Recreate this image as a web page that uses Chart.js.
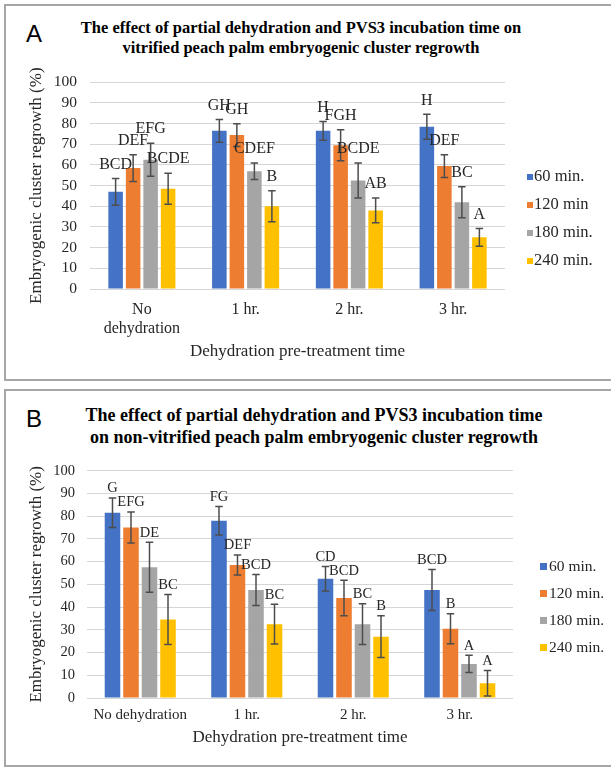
<!DOCTYPE html>
<html lang="en">
<head>
<meta charset="UTF-8">
<title>Peach palm embryogenic cluster regrowth</title>
<script src="https://cdn.jsdelivr.net/npm/chart.js"></script>
<style>
    body {
        margin: 0;
        width: 611px;
        height: 767px;
        overflow: hidden;
        position: relative;
        background: #fff;
        font-family: 'Liberation Serif', 'Times New Roman', serif;
        color: #000;
    }
    .panel {
        position: absolute;
        left: 4px;
        width: 660px;
        border: 2px solid #a6a6a6;
        box-sizing: border-box;
    }
    #panelA { top: 4px; height: 377px; }
    #panelB { top: 389px; height: 378px; }
    .tag {
        position: absolute;
        left: 26px;
        font-family: 'Liberation Sans', Arial, sans-serif;
        font-size: 24px;
        line-height: 24px;
    }
    .title {
        position: absolute;
        font-weight: bold;
        text-align: center;
        white-space: nowrap;
    }
    #titleA { left: 0; width: 602px; top: 18px; font-size: 16.5px; line-height: 20px; }
    #titleB { left: 0; width: 628px; top: 405px; font-size: 18px; line-height: 21.5px; }
    canvas { position: absolute; left: 6px; }
    #chartA { top: 60px; }
    #chartB { top: 450px; }
</style>
</head>
<body>
    <div class="panel" id="panelA"></div>
    <div class="panel" id="panelB"></div>

    <div class="tag" style="top:22px">A</div>
    <div class="title" id="titleA">The effect of partial dehydration and PVS3 incubation time on<br>vitrified peach palm embryogenic cluster regrowth</div>
    <canvas id="chartA" width="600" height="318"></canvas>

    <div class="tag" style="top:407px">B</div>
    <div class="title" id="titleB">The effect of partial dehydration and PVS3 incubation time<br>on non-vitrified peach palm embryogenic cluster regrowth</div>
    <canvas id="chartB" width="600" height="314"></canvas>

<script>
    // categories and series
    const categoriesA = [['No', 'dehydration'], '1 hr.', '2 hr.', '3 hr.'];
    const categoriesB = ['No dehydration', '1 hr.', '2 hr.', '3 hr.'];
    const seriesNamesA = ['60 min.', '120 min', '180 min.', '240 min.'];
    const seriesNamesB = ['60 min.', '120 min.', '180 min.', '240 min.'];
    const seriesColors = ['#4472C4', '#ED7D31', '#A5A5A5', '#FFC000'];
    const yTicks = [0, 10, 20, 30, 40, 50, 60, 70, 80, 90, 100];

    // panel A: vitrified
    const a60 = [47, 76.5, 76.5, 78.5];
    const a120 = [58.5, 74.5, 69.5, 59.5];
    const a180 = [62.5, 57, 52.5, 42];
    const a240 = [48.5, 40, 38, 25];
    const a60Err = [6.5, 5.5, 4.5, 6];
    const a120Err = [6.5, 5.5, 7.5, 5.5];
    const a180Err = [8, 4, 8.5, 7.5];
    const a240Err = [7.5, 7.5, 6, 4.3];
    const a60Letters = ['BCD', 'GH', 'H', 'H'];
    const a120Letters = ['DEF', 'GH', 'FGH', 'DEF'];
    const a180Letters = ['EFG', 'CDEF', 'BCDE', 'BC'];
    const a240Letters = ['BCDE', 'B', 'AB', 'A'];

    // panel B: non-vitrified
    const b60 = [81.5, 78, 52.5, 47.5];
    const b120 = [75, 58.5, 44, 30.5];
    const b180 = [57.5, 47.5, 32.5, 15];
    const b240 = [34.5, 32.5, 27, 6.5];
    const b60Err = [6.5, 6.3, 5.4, 9];
    const b120Err = [6.8, 4.4, 7.8, 6.6];
    const b180Err = [11, 6.8, 9, 3.8];
    const b240Err = [11, 8.7, 9.2, 5.6];
    const b60Letters = ['G', 'FG', 'CD', 'BCD'];
    const b120Letters = ['EFG', 'DEF', 'BCD', 'B'];
    const b180Letters = ['DE', 'BCD', 'BC', 'A'];
    const b240Letters = ['BC', 'BC', 'B', 'A'];

    const textColor = '#262626';
    const serif = 'Liberation Serif';

    const errorBars = {
        id: 'errorBars',
        afterDatasetsDraw(chart, args, opts) {
            const ctx = chart.ctx;
            const y = chart.scales.y;
            ctx.save();
            ctx.strokeStyle = opts.color;
            ctx.lineWidth = opts.width;
            chart.data.datasets.forEach((ds, i) => {
                chart.getDatasetMeta(i).data.forEach((bar, j) => {
                    const v = ds.data[j], e = ds.errors[j];
                    const top = y.getPixelForValue(v + e);
                    const bot = y.getPixelForValue(Math.max(0, v - e));
                    ctx.beginPath();
                    ctx.moveTo(bar.x, top); ctx.lineTo(bar.x, bot);
                    ctx.moveTo(bar.x - opts.cap, top); ctx.lineTo(bar.x + opts.cap, top);
                    ctx.moveTo(bar.x - opts.cap, bot); ctx.lineTo(bar.x + opts.cap, bot);
                    ctx.stroke();
                });
            });
            ctx.restore();
        }
    };

    const letters = {
        id: 'letters',
        afterDatasetsDraw(chart, args, opts) {
            const ctx = chart.ctx;
            const y = chart.scales.y;
            ctx.save();
            ctx.fillStyle = textColor;
            ctx.font = opts.size + 'px ' + serif;
            ctx.textAlign = 'center';
            ctx.textBaseline = 'middle';
            chart.data.datasets.forEach((ds, i) => {
                chart.getDatasetMeta(i).data.forEach((bar, j) => {
                    const top = y.getPixelForValue(ds.data[j] + ds.errors[j]);
                    ctx.fillText(ds.letters[j], bar.x, top - opts.lift);
                });
            });
            ctx.restore();
        }
    };

    const sideLegend = {
        id: 'sideLegend',
        afterDraw(chart, args, opts) {
            const ctx = chart.ctx;
            const right = chart.chartArea.right;
            const n = chart.data.datasets.length;
            ctx.save();
            ctx.font = opts.size + 'px ' + serif;
            ctx.textBaseline = 'middle';
            chart.data.datasets.forEach((ds, i) => {
                const cy = chart.height / 2 + (i - (n - 1) / 2) * opts.spacing;
                ctx.fillStyle = ds.backgroundColor;
                ctx.fillRect(right + opts.boxX, cy - opts.box / 2, opts.box, opts.box);
                ctx.fillStyle = textColor;
                ctx.fillText(ds.label, right + opts.textX, cy);
            });
            ctx.restore();
        }
    };

    function buildChart(id, s) {
        const datasets = s.values.map((vals, i) => ({
            label: s.names[i],
            data: vals,
            errors: s.errors[i],
            letters: s.letters[i],
            backgroundColor: seriesColors[i],
            borderWidth: 0,
            categoryPercentage: s.catPct,
            barPercentage: s.barPct
        }));
        return new Chart(document.getElementById(id), {
            type: 'bar',
            data: { labels: s.labels, datasets: datasets },
            options: {
                responsive: false,
                animation: false,
                devicePixelRatio: 1,
                layout: { padding: { top: s.padTop, right: s.padRight, left: 0, bottom: 0 } },
                plugins: {
                    legend: { display: false },
                    tooltip: { enabled: false },
                    errorBars: { color: '#4d4d4d', width: 1.5, cap: 3.75 },
                    letters: { size: s.letterSize, lift: s.letterLift },
                    sideLegend: s.legend
                },
                scales: {
                    x: {
                        grid: { display: false, drawTicks: false },
                        border: { display: false },
                        ticks: {
                            color: textColor, padding: s.xTickPad, maxRotation: 0, autoSkip: false,
                            font: { family: serif, size: s.xTickSize }
                        },
                        title: {
                            display: true, text: 'Dehydration pre-treatment time', color: textColor,
                            font: { family: serif, size: 17 }, padding: { top: 0, bottom: 16 }
                        },
                        afterFit: scale => { scale.height = s.xHeight; }
                    },
                    y: {
                        min: 0,
                        max: 100,
                        afterBuildTicks: scale => { scale.ticks = yTicks.map(v => ({ value: v })); },
                        grid: { color: '#d6d6d6', lineWidth: 1, drawTicks: false },
                        border: { display: false },
                        ticks: {
                            color: textColor, padding: s.yTickPad, autoSkip: false,
                            font: { family: serif, size: s.yTickSize }
                        },
                        title: {
                            display: true, text: 'Embryogenic cluster regrowth (%)', color: textColor,
                            font: { family: serif, size: 17 }, padding: { top: 20, bottom: 0 }
                        },
                        afterFit: scale => { scale.width = s.yWidth; }
                    }
                }
            },
            plugins: [errorBars, letters, sideLegend]
        });
    }

    buildChart('chartA', {
        labels: categoriesA,
        names: seriesNamesA,
        values: [a60, a120, a180, a240],
        errors: [a60Err, a120Err, a180Err, a240Err],
        letters: [a60Letters, a120Letters, a180Letters, a240Letters],
        catPct: 0.675, barPct: 0.83,
        padTop: 16, padRight: 101,
        yWidth: 84, yTickPad: 13, yTickSize: 15.5,
        xHeight: 89, xTickPad: 11, xTickSize: 16,
        letterSize: 16, letterLift: 14,
        legend: { size: 16.5, spacing: 28, box: 6, boxX: 22, textX: 29 }
    });

    buildChart('chartB', {
        labels: categoriesB,
        names: seriesNamesB,
        values: [b60, b120, b180, b240],
        errors: [b60Err, b120Err, b180Err, b240Err],
        letters: [b60Letters, b120Letters, b180Letters, b240Letters],
        catPct: 0.695, barPct: 0.84,
        padTop: 17, padRight: 93,
        yWidth: 81, yTickPad: 12, yTickSize: 14.5,
        xHeight: 66, xTickPad: 8, xTickSize: 15,
        letterSize: 14.5, letterLift: 9.5,
        legend: { size: 15.5, spacing: 27, box: 7, boxX: 27, textX: 36 }
    });
</script>
</body>
</html>
